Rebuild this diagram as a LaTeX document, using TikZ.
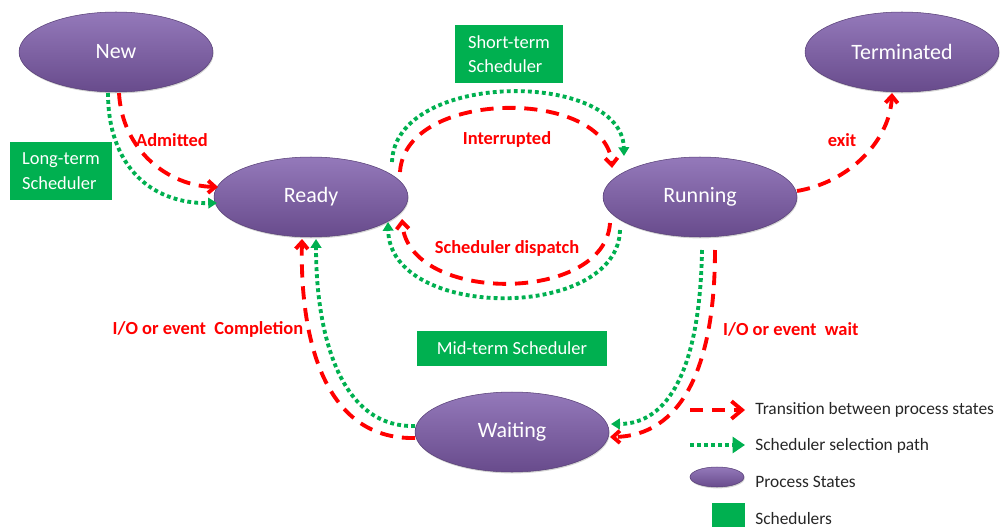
\documentclass[tikz,border=0pt]{standalone}
\usepackage{fontspec}
\setmainfont{Carlito}
\usetikzlibrary{arrows.meta,shapes.geometric,calc,shadows}
\definecolor{ptop}{HTML}{9479BA}
\definecolor{pbot}{HTML}{684B8C}
\definecolor{sgreen}{HTML}{00B050}
\definecolor{tred}{HTML}{FF0000}
\begin{document}
\begin{tikzpicture}[x=0.02cm,y=-0.02cm,
 state/.style={ellipse, top color=ptop, bottom color=pbot, draw=pbot!85!black, line width=0.3pt,
   minimum width=3.88cm, minimum height=1.6cm, inner sep=0pt, text=white,
   font=\fontsize{12.5}{15}\selectfont,
   drop shadow={opacity=0.35,shadow xshift=0.4pt,shadow yshift=-0.8pt}},
 sched/.style={fill=sgreen, text=white, font=\fontsize{10.5}{14}\selectfont, inner sep=0pt, align=left},
 trans/.style={draw=tred, line width=2.2pt, dash pattern=on 7.5pt off 5pt,
   -{Straight Barb[length=4pt,width=7pt]}},
 sel/.style={draw=sgreen, line width=2.2pt, dash pattern=on 2.2pt off 1.8pt,
   -{Triangle[length=5pt,width=6pt]}},
 lbl/.style={text=tred, font=\bfseries\fontsize{10.5}{12}\selectfont},
 leg/.style={font=\fontsize{9.9}{11}\selectfont, text=black!85, anchor=west, inner sep=0pt}]
\useasboundingbox (0,0) rectangle (1000,527);

% states
\node[state] (New) at (116,52) {New};
\node[state] (Ready) at (311,197) {\raisebox{-1pt}{Ready}};
\node[state] (Running) at (700,197) {\raisebox{-1pt}{Running}};
\node[state] (Term) at (902,52) {Terminated};
\node[state] (Wait) at (512,432) {Waiting};

% schedulers
\node[sched, minimum width=2.04cm, minimum height=1.18cm] (LTS) at (61,171) {Long-term\\Scheduler};
\node[sched, minimum width=2.16cm, minimum height=1.18cm] (STS) at (509,54) {Short-term\\Scheduler};
\node[sched, minimum width=3.82cm, minimum height=0.7cm] (MTS) at (512,348) {Mid-term Scheduler};

% New -> Ready
\draw[sel] ($(New)+(-8,41)$) .. controls (108,165) and (150,204) .. ($(Ready)+(-94,6)$);
\draw[trans] ($(New)+(3,41)$) .. controls (122,150) and (168,186) .. ($(Ready)+(-93,-10)$);
\node[lbl] (adm) at (172,140) {Admitted};

% Ready -> Running (top)
\draw[sel] ($(Ready)+(81,-35)$) .. controls (395,70) and (622,70) .. ($(Running)+(-76,-41)$);
\draw[trans] ($(Ready)+(89,-25)$) .. controls (405,88) and (607,88) .. ($(Running)+(-88,-29)$);
\node[lbl] (intr) at (507,139) {Interrupted};

% Running -> Ready (bottom)
\draw[sel] ($(Running)+(-80,33)$) .. controls (618,321) and (390,321) .. ($(Ready)+(77,25)$);
\draw[trans] ($(Running)+(-90,26)$) .. controls (605,304) and (408,304) .. ($(Ready)+(91,22)$);
\node[lbl] (disp) at (507,248) {Scheduler dispatch};

% Running -> Terminated
\draw[trans] ($(Running)+(97,-6)$) .. controls (850,182) and (890,140) .. ($(Term)+(-10,41)$);
\node[lbl] (exit) at (842,140) {exit};

% Running -> Waiting
\draw[sel] ($(Running)+(2,53)$) .. controls (700,370) and (668,424) .. ($(Wait)+(99,-8)$);
\draw[trans] ($(Running)+(15,53)$) .. controls (715,370) and (680,436) .. ($(Wait)+(98,5)$);
\node[lbl, anchor=west] (iow) at (717,329) {I/O or event\ \ wait};

% Waiting -> Ready
\draw[sel] ($(Wait)+(-97,-6)$) .. controls (338,428) and (316,330) .. ($(Ready)+(5,42)$);
\draw[trans] ($(Wait)+(-97,6)$) .. controls (320,440) and (300,330) .. ($(Ready)+(-9,42)$);
\node[lbl] (ioc) at (208,329) {I/O or event\ \ Completion};

% legend
\coordinate (l1a) at (690,410); \coordinate (l1b) at (745,410);
\coordinate (l2a) at (690,445); \coordinate (l2b) at (745,445);
\draw[trans, -{Straight Barb[length=6pt,width=10pt]}] (l1a) -- (l1b);
\draw[sel, -{Triangle[length=7pt,width=9pt]}] (l2a) -- (l2b);
\node[state, minimum width=1.08cm, minimum height=0.4cm] (lstate) at (717,477) {};
\node[fill=sgreen, minimum width=0.66cm, minimum height=0.48cm, inner sep=0pt] (lsched) at (728.5,515) {};
\node[leg] (t1) at (755,410) {Transition between process states};
\node[leg] (t2) at (755,446) {Scheduler selection path};
\node[leg] (t3) at (755,482) {Process States};
\node[leg] (t4) at (755,519) {Schedulers};
\end{tikzpicture}
\end{document}
